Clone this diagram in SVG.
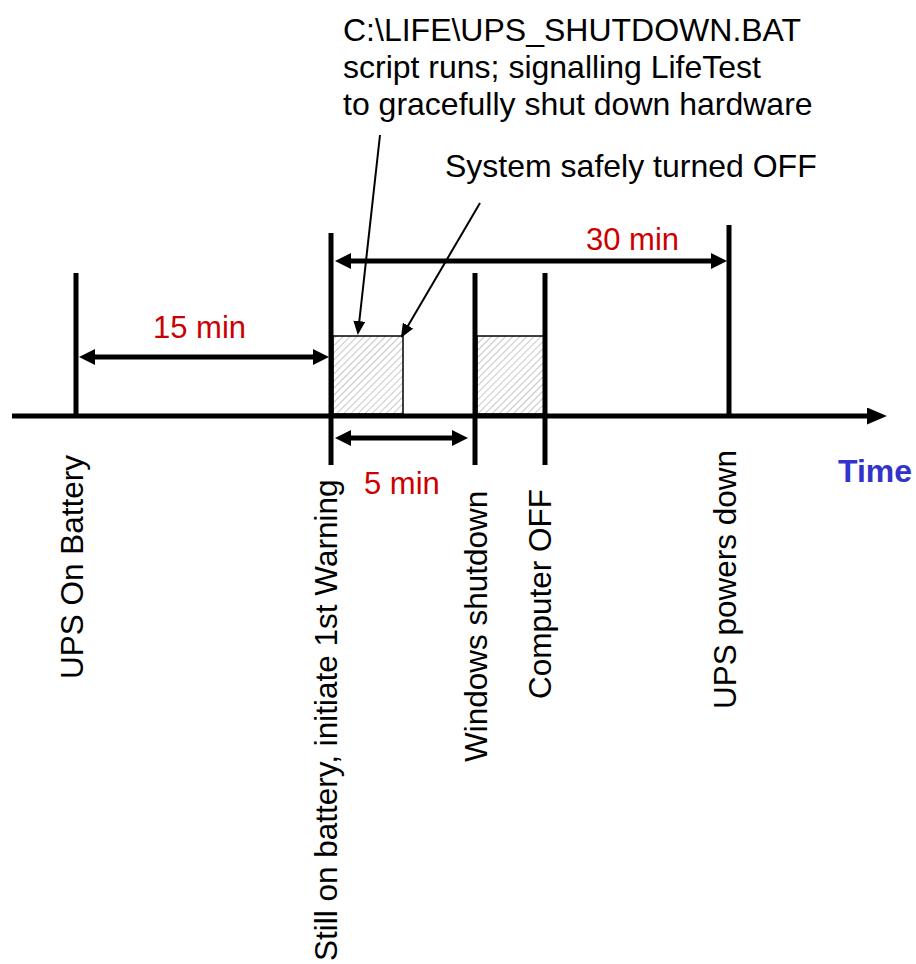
<svg xmlns="http://www.w3.org/2000/svg" width="916" height="964" viewBox="0 0 916 964">
<style>
  text { font-family: "Liberation Sans", Arial, sans-serif; font-size: 31px; fill: #000; }
  .cap { font-size: 32px; }
  .rot { font-size: 31.5px; }
  .red { fill: #cc0000; }
  .blue { fill: #3333cc; font-weight: bold; font-size: 32px; }
  .tick { stroke: #000; stroke-width: 5; fill: none; }
  .dim { stroke: #000; stroke-width: 5; fill: none; marker-start: url(#ah); marker-end: url(#ah); }
  .ptr { stroke: #000; stroke-width: 2; fill: none; marker-end: url(#ph); }
  .box { fill: url(#hatch); stroke: #000; stroke-width: 1.5; }
</style>
<defs>
  <pattern id="hatch" patternUnits="userSpaceOnUse" width="5" height="5" patternTransform="rotate(45)">
    <rect width="5" height="5" fill="#ffffff"/>
    <line x1="0" y1="0" x2="0" y2="5" stroke="#b8b8b8" stroke-width="1.6"/>
  </pattern>
  <marker id="ah" viewBox="0 0 16 16" refX="8" refY="8" markerWidth="16" markerHeight="16" markerUnits="userSpaceOnUse" orient="auto-start-reverse">
    <path d="M0,0 L16,8 L0,16 z" fill="#000"/>
  </marker>
  <marker id="ph" viewBox="0 0 14 12" refX="12" refY="6" markerWidth="14" markerHeight="12" markerUnits="userSpaceOnUse" orient="auto">
    <path d="M0,0 L14,6 L0,12 z" fill="#000"/>
  </marker>
  <marker id="axh" viewBox="0 0 20 17" refX="4" refY="8.5" markerWidth="20" markerHeight="17" markerUnits="userSpaceOnUse" orient="auto">
    <path d="M0,0 L20,8.5 L0,17 z" fill="#000"/>
  </marker>
</defs>

<g id="shutdown-boxes">
  <rect class="box" x="333" y="336" width="70" height="78"/>
  <rect class="box" x="477" y="336" width="67" height="78"/>
</g>

<g id="connectors">
  <line class="tick" x1="12" y1="416" x2="871" y2="416" style="marker-end:url(#axh)"/>
  <line class="dim" x1="87" y1="357" x2="321" y2="357"/>
  <line class="dim" x1="343" y1="261" x2="719" y2="261"/>
  <line class="dim" x1="343" y1="438" x2="460" y2="438"/>
  <line class="ptr" x1="380" y1="135" x2="358" y2="333"/>
  <line class="ptr" x1="480" y1="203" x2="402" y2="336"/>
</g>

<g id="ups-on-battery">
  <line class="tick" x1="76" y1="273" x2="76" y2="416"/>
  <text class="rot" transform="translate(83,679) rotate(-90)">UPS On Battery</text>
</g>

<g id="first-warning">
  <line class="tick" x1="331" y1="233" x2="331" y2="465"/>
  <text class="rot" transform="translate(337,961) rotate(-90)">Still on battery, initiate 1st Warning</text>
</g>

<g id="windows-shutdown">
  <line class="tick" x1="475" y1="273" x2="475" y2="465"/>
  <text class="rot" transform="translate(487,762) rotate(-90)">Windows shutdown</text>
</g>

<g id="computer-off">
  <line class="tick" x1="545" y1="273" x2="545" y2="465"/>
  <text class="rot" transform="translate(551,699) rotate(-90)">Computer OFF</text>
</g>

<g id="ups-powers-down">
  <line class="tick" x1="729" y1="225" x2="729" y2="416"/>
  <text class="rot" transform="translate(736,709) rotate(-90)">UPS powers down</text>
</g>

<g id="labels">
  <text class="cap" x="343" y="41">C:\LIFE\UPS_SHUTDOWN.BAT</text>
  <text class="cap" x="343" y="78">script runs; signalling LifeTest</text>
  <text class="cap" x="343" y="115">to gracefully shut down hardware</text>
  <text class="cap" x="445" y="177">System safely turned OFF</text>
  <text class="red" x="153" y="338">15 min</text>
  <text class="red" x="586" y="250">30 min</text>
  <text class="red" x="364" y="494">5 min</text>
  <text class="blue" x="838" y="482">Time</text>
</g>
</svg>
